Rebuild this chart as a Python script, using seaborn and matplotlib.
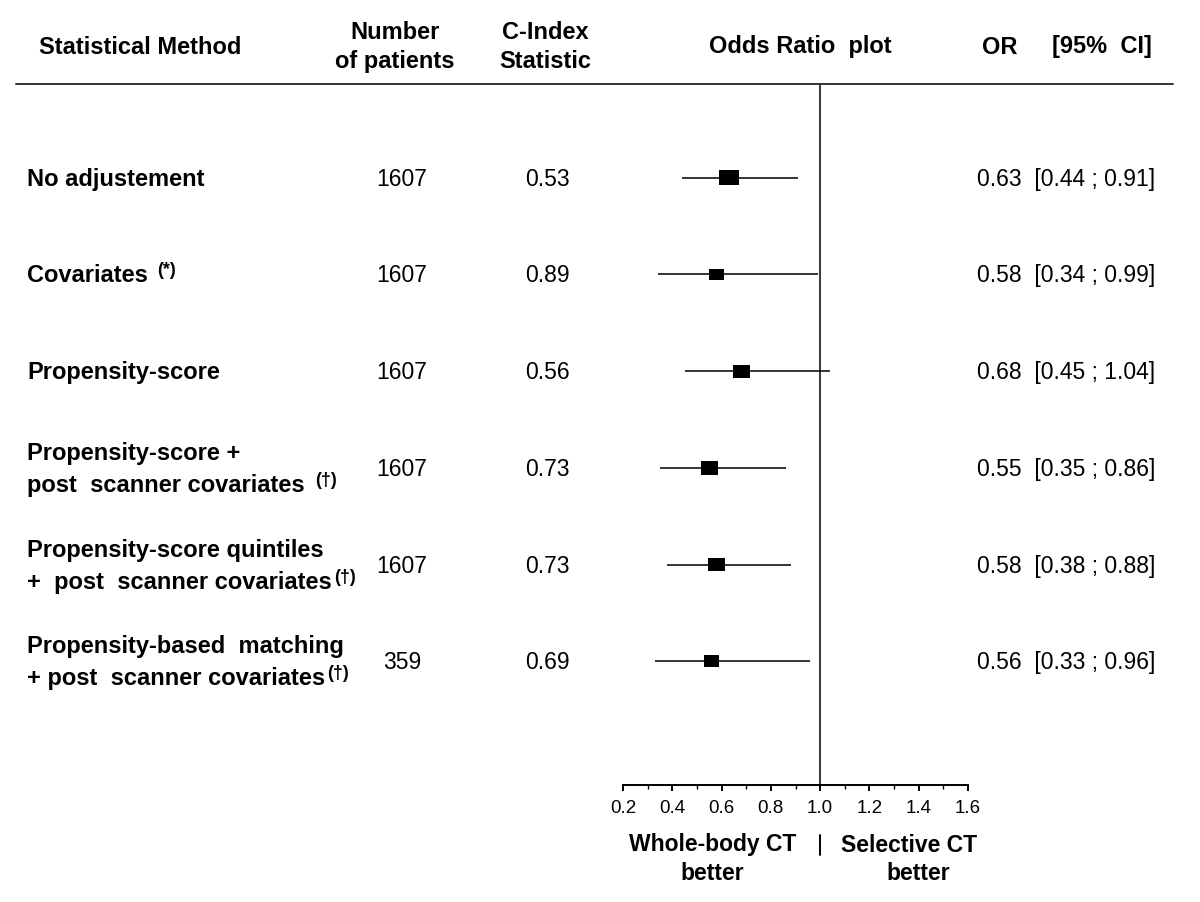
import matplotlib
matplotlib.use("Agg")
import matplotlib.pyplot as plt
import matplotlib.transforms as mtransforms
from matplotlib.lines import Line2D
import numpy as np
import pandas as pd
import seaborn as sns

# ---------------- data ----------------
methods = [
    ["No adjustement"],
    ["Covariates"],
    ["Propensity-score"],
    ["Propensity-score +", "post  scanner covariates"],
    ["Propensity-score quintiles", "+  post  scanner covariates"],
    ["Propensity-based  matching", "+ post  scanner covariates"],
]
footnotes = ["", "(*)", "", "(\u2020)", "(\u2020)", "(\u2020)"]
n_patients = [1607, 1607, 1607, 1607, 1607, 359]
c_index = [0.53, 0.89, 0.56, 0.73, 0.73, 0.69]
odds_ratio = [0.63, 0.58, 0.68, 0.55, 0.58, 0.56]
ci_low = [0.44, 0.34, 0.45, 0.35, 0.38, 0.33]
ci_high = [0.91, 0.99, 1.04, 0.86, 0.88, 0.96]
x_ticks = [0.2, 0.4, 0.6, 0.8, 1.0, 1.2, 1.4, 1.6]

# ---------------- style ----------------
box_w_px = [20, 15, 17, 17.5, 17.5, 15]   # marker widths in pixels
foot_gap_px = [0, 9, 0, 10, 2, 2]
W, H, DPI = 1200, 902, 100
FONT = ["Liberation Sans", "DejaVu Sans"]

sns.set_theme(style="white")
plt.rcParams["font.family"] = FONT

df = pd.DataFrame({
    "row": np.arange(len(odds_ratio)),
    "or": odds_ratio,
    "lo": ci_low,
    "hi": ci_high,
})

fig = plt.figure(figsize=(W / DPI, H / DPI), dpi=DPI)
fig.patch.set_facecolor("white")

# axes for forest plot (pixel box: x 623..968, y 84..785)
ax = fig.add_axes([623 / W, 1 - 785 / H, (968 - 623) / W, (785 - 84) / H])
ax.set_facecolor("none")

n = len(odds_ratio)
ax.set_ylim(n - 1 + 1.28, -0.97)
ax.set_xlim(0.2, 1.6)

# CI lines
ax.hlines(df["row"], df["lo"], df["hi"], color="black", lw=1.1, zorder=2)

# rectangular markers (aspect 1.3 : 1)
rect = np.array([[-0.65, -0.5], [0.65, -0.5], [0.65, 0.5], [-0.65, 0.5], [-0.65, -0.5]])
sizes_pt = [(w * 72 / DPI) ** 2 for w in box_w_px]
df["msize"] = sizes_pt
sns.scatterplot(data=df, x="or", y="row", size="msize", sizes=(min(sizes_pt), max(sizes_pt)),
                marker=rect, color="black", edgecolor="black", linewidth=0,
                legend=False, ax=ax, zorder=3)

# reference line at 1.0
ax.axvline(1.0, color="black", lw=1.1, zorder=1)

# axis styling
for s in ["top", "left", "right"]:
    ax.spines[s].set_visible(False)
ax.spines["bottom"].set_visible(True)
ax.spines["bottom"].set_color("black")
ax.spines["bottom"].set_linewidth(1.4)
ax.set_yticks([])
ax.set_xticks(x_ticks)
ax.set_xticklabels([f"{t:.1f}" for t in x_ticks], fontsize=13.5)
ax.set_xticks(np.arange(0.3, 1.6, 0.2), minor=True)
ax.tick_params(axis="x", which="major", direction="out", length=4.0, width=1.4,
               color="black", bottom=True, pad=7, labelcolor="black")
ax.tick_params(axis="x", which="minor", direction="out", length=3.0, width=1.0,
               color="black", bottom=True)
ax.set_xlabel("")
ax.set_ylabel("")
ax.grid(False)

# ---------------- table text ----------------
row_tr = mtransforms.offset_copy(
    mtransforms.blended_transform_factory(fig.transFigure, ax.transData),
    fig=fig, x=0, y=-1.5, units="dots")
LFS = 17      # bold labels
NFS = 16.5    # numbers
line_off = 16  # px half-distance between two lines

renderer = fig.canvas.get_renderer()
for i in range(n):
    lines = methods[i]
    offs = [0] if len(lines) == 1 else [line_off, -line_off]
    last_txt = None
    for ln, off in zip(lines, offs):
        tr = mtransforms.offset_copy(row_tr, fig=fig, x=0, y=off, units="dots")
        last_txt = fig.text(27 / W, i, ln, transform=tr, ha="left", va="center",
                            fontsize=LFS, fontweight="bold", color="black")
    if footnotes[i]:
        bb = last_txt.get_window_extent(renderer=renderer)
        tr = mtransforms.offset_copy(row_tr, fig=fig, x=0, y=offs[-1] + 5, units="dots")
        fig.text((bb.x1 + foot_gap_px[i]) / W, i, footnotes[i], transform=tr,
                 ha="left", va="center", fontsize=13, fontweight="bold", color="black")

    fig.text(402 / W, i, f"{n_patients[i]}", transform=row_tr, ha="center", va="center",
             fontsize=NFS, color="black")
    fig.text(547 / W, i, f"{c_index[i]:.2f}", transform=row_tr, ha="center", va="center",
             fontsize=NFS, color="black")
    fig.text(977 / W, i, f"{odds_ratio[i]:.2f}  [{ci_low[i]:.2f} ; {ci_high[i]:.2f}]",
             transform=row_tr, ha="left", va="center", fontsize=NFS, color="black")

# ---------------- header ----------------
def ftext(x, y, s, **kw):
    fig.text(x / W, 1 - y / H, s, **kw)

hk = dict(fontsize=17, fontweight="bold", color="black", va="center")
ftext(140, 47, "Statistical Method", ha="center", **hk)
ftext(395, 47, "Number\nof patients", ha="center", linespacing=1.3, **hk)
ftext(545, 47, "C-Index\nStatistic", ha="center", linespacing=1.3, **hk)
ftext(800, 47, "Odds Ratio  plot", ha="center", **hk)
ftext(1000, 47, "OR", ha="center", **hk)
ftext(1102, 47, "[95%  CI]", ha="center", **hk)

fig.add_artist(Line2D([16 / W, 1173 / W], [1 - 84 / H, 1 - 84 / H],
                      transform=fig.transFigure, color="#333333", lw=1.4))

# ---------------- bottom labels ----------------
bk = dict(fontsize=16.5, fontweight="bold", color="black", va="center", ha="center")
ftext(713, 845, "Whole-body CT", **bk)
ftext(712, 873, "better", **bk)
ftext(909, 845, "Selective CT", **bk)
ftext(918, 873, "better", **bk)
fig.add_artist(Line2D([820 / W, 820 / W], [1 - 835 / H, 1 - 855 / H],
                      transform=fig.transFigure, color="black", lw=1.4))

fig.savefig("out.png", dpi=DPI, facecolor="white")
